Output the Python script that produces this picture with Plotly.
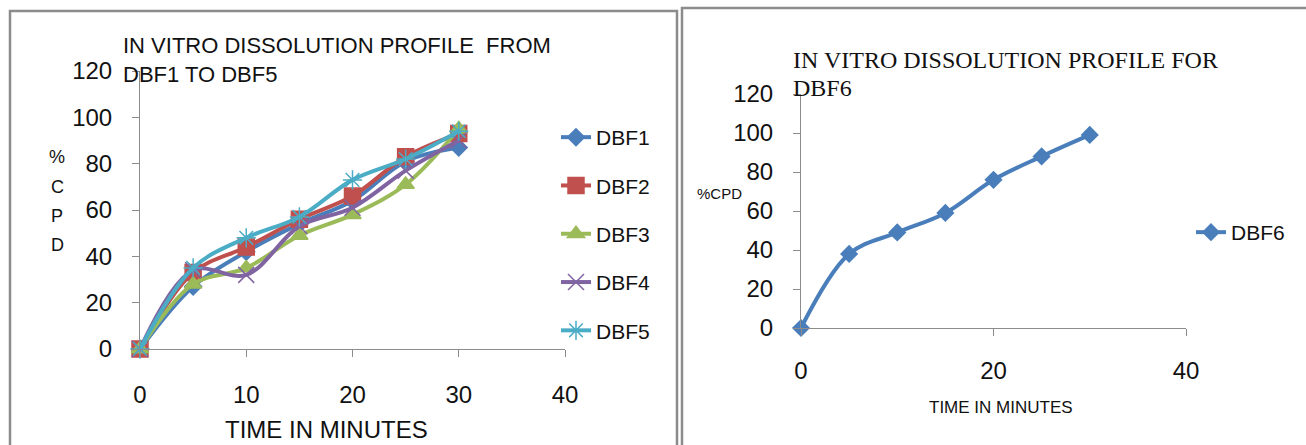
import plotly.graph_objects as go

# ---- data ----
time_min = [0, 5, 10, 15, 20, 25, 30]
dbf1 = [0, 27, 42, 54, 64, 81, 87]
dbf2 = [0, 33, 44, 56, 66, 83, 93]
dbf3 = [0, 28, 35, 49, 58, 71, 95]
dbf4 = [0, 34, 32, 53, 61, 77, 90]
dbf5 = [0, 35, 48, 57, 73, 82, 94]
dbf6 = [0, 38, 49, 59, 76, 88, 99]

series_left = ["DBF1", "DBF2", "DBF3", "DBF4", "DBF5"]
values_left = [dbf1, dbf2, dbf3, dbf4, dbf5]
colors_left = ["#4A7EBB", "#C0504D", "#9BBB59", "#8064A2", "#4BACC6"]
symbols_left = ["diamond", "square", "triangle-up", "x-thin-open", "asterisk-open"]
sizes_left = [13, 16, 15, 16, 16]

x_ticks = [0, 10, 20, 30, 40]
x_ticks_right = [0, 20, 40]
y_ticks = [0, 20, 40, 60, 80, 100, 120]

W, H = 1306, 445
SANS = "Liberation Sans"
SERIF = "Liberation Serif"

fig = go.Figure()

for name, vals, col, sym, sz in zip(series_left, values_left, colors_left, symbols_left, sizes_left):
    fig.add_trace(go.Scatter(
        x=time_min, y=vals, name=name, mode="lines+markers",
        line=dict(color=col, width=4, shape="spline", smoothing=1.0),
        marker=dict(symbol=sym, size=sz, color=col, line=dict(color=col, width=1.5)),
        xaxis="x", yaxis="y", legend="legend", legendgroup=name,
        cliponaxis=False,
    ))

fig.add_trace(go.Scatter(
    x=time_min, y=dbf6, name="DBF6", mode="lines+markers",
    line=dict(color="#4A7EBB", width=4, shape="spline", smoothing=1.0),
    marker=dict(symbol="diamond", size=14, color="#4A7EBB"),
    xaxis="x2", yaxis="y2", legend="legend2", cliponaxis=False,
))

def px_x(p):
    return p / W

def px_y(p):
    return (H - p) / H

axis_common = dict(showgrid=False, zeroline=False, showline=True, linecolor="#8C8C8C",
                   linewidth=1, ticks="outside", tickcolor="#8C8C8C", ticklen=7,
                   automargin=False,
                   tickfont=dict(family=SANS, size=24, color="#111111"))

fig.update_layout(
    template="none",
    width=W, height=H,
    margin=dict(l=0, r=0, t=0, b=0, pad=0, autoexpand=False),
    paper_bgcolor="white", plot_bgcolor="white",
    xaxis=dict(domain=[px_x(140), px_x(565)], range=[0, 40], tickvals=x_ticks,
               anchor="y", ticklabelstandoff=17, **axis_common),
    yaxis=dict(domain=[px_y(349), px_y(71)], range=[0, 120], tickvals=y_ticks,
               anchor="x", ticklabelstandoff=15, **axis_common),
    xaxis2=dict(domain=[px_x(801), px_x(1186)], range=[0, 40], tickvals=x_ticks_right,
                anchor="y2", ticklabelstandoff=14, **axis_common),
    yaxis2=dict(domain=[px_y(328), px_y(94)], range=[0, 120], tickvals=y_ticks,
                anchor="x2", ticklabelstandoff=15, **axis_common),
    legend=dict(x=px_x(556), y=px_y(117), xanchor="left", yanchor="top",
                font=dict(family=SANS, size=21, color="#111111"),
                tracegroupgap=18, bgcolor="rgba(0,0,0,0)", borderwidth=0),
    legend2=dict(x=px_x(1191), y=px_y(212), xanchor="left", yanchor="top",
                 font=dict(family=SANS, size=21, color="#111111"),
                 bgcolor="rgba(0,0,0,0)", borderwidth=0),
    showlegend=True,
)

# panel borders
fig.add_shape(type="rect", xref="paper", yref="paper",
              x0=px_x(10), x1=px_x(677), y0=-0.05, y1=px_y(11),
              line=dict(color="#8C8C8C", width=2.5))
fig.add_shape(type="rect", xref="paper", yref="paper",
              x0=px_x(682), x1=1.05, y0=-0.05, y1=px_y(8),
              line=dict(color="#8C8C8C", width=2.5))

# titles
fig.add_annotation(text="IN VITRO DISSOLUTION PROFILE  FROM", xref="paper", yref="paper",
                   x=px_x(121), y=px_y(45), xanchor="left", yanchor="middle", showarrow=False,
                   font=dict(family=SANS, size=22, color="#111111"))
fig.add_annotation(text="DBF1 TO DBF5", xref="paper", yref="paper",
                   x=px_x(121), y=px_y(75), xanchor="left", yanchor="middle", showarrow=False,
                   font=dict(family=SANS, size=22, color="#111111"))
fig.add_annotation(text="IN VITRO DISSOLUTION PROFILE FOR", xref="paper", yref="paper",
                   x=px_x(791), y=px_y(60), xanchor="left", yanchor="middle", showarrow=False,
                   font=dict(family=SERIF, size=24, color="#111111"))
fig.add_annotation(text="DBF6", xref="paper", yref="paper",
                   x=px_x(791), y=px_y(88), xanchor="left", yanchor="middle", showarrow=False,
                   font=dict(family=SERIF, size=24, color="#111111"))

# axis titles
fig.add_annotation(text="TIME IN MINUTES", xref="paper", yref="paper",
                   x=px_x(326), y=px_y(429), xanchor="center", yanchor="middle", showarrow=False,
                   font=dict(family=SANS, size=24, color="#111111"))
for i, ch in enumerate(["%", "C", "P", "D"]):
    fig.add_annotation(text=ch, xref="paper", yref="paper",
                       x=px_x(57), y=px_y(157 + i * 29.5), xanchor="center", yanchor="middle",
                       showarrow=False, font=dict(family=SANS, size=18, color="#111111"))
fig.add_annotation(text="TIME IN MINUTES", xref="paper", yref="paper",
                   x=px_x(1001), y=px_y(407), xanchor="center", yanchor="middle", showarrow=False,
                   font=dict(family=SANS, size=17, color="#111111"))
fig.add_annotation(text="%CPD", xref="paper", yref="paper",
                   x=px_x(719), y=px_y(193), xanchor="center", yanchor="middle", showarrow=False,
                   font=dict(family=SANS, size=15, color="#111111"))

fig.write_html("out.html")
